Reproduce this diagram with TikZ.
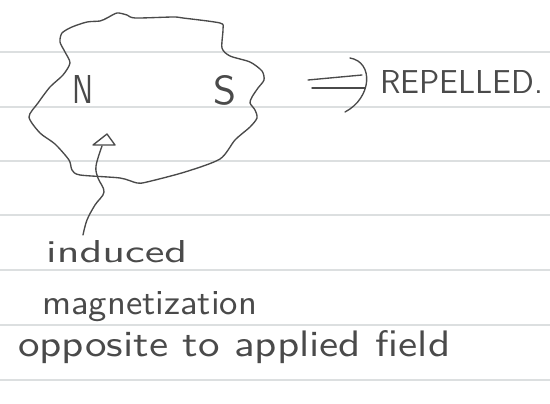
\documentclass[tikz,border=0pt]{standalone}
\usepackage{graphicx}
\definecolor{ink}{HTML}{4A4A4A}
\definecolor{paperline}{HTML}{DCDFE0}
\begin{document}
\begin{tikzpicture}[x=1pt,y=-1pt,
  pen/.style={draw=ink, line width=1.35pt, line cap=round, line join=round},
  ruleline/.style={draw=paperline, line width=1.3pt},
  hand/.style={inner sep=0pt, anchor=base west, text=ink, font=\sffamily}]
\fill[white] (0,0) rectangle (550,404);
\useasboundingbox (0,0) rectangle (550,404);
\foreach \yy in {52,107,161,215,270,325,380} \draw[ruleline] (0,\yy) -- (550,\yy);

% the body
\draw[pen] plot[smooth cycle, tension=0.45] coordinates {
 (62,33) (72,27) (87,22) (100,21) (107,18) (117,13) (127,15) (135,18) (173,17) (183,18)
 (220,23) (223,29) (222,48) (230,56) (250,62) (262,71) (264,80) (258,88) (252,97) (250,103)
 (255,110) (257,118) (250,127) (235,140) (220,159) (185,172) (147,182) (137,183) (120,178)
 (80,175) (72,170) (69,160) (55,144) (40,133) (29,117) (38,103) (50,87) (63,75) (70,63)
 (65,52) (60,42)};

\node[hand] (N) at (72,103) {\resizebox{21pt}{28pt}{N}};
\node[hand] (S) at (213,105) {\resizebox{23pt}{29pt}{S}};

% implies arrow
\coordinate (i1a) at (308,80); \coordinate (i1b) at (362,75);
\coordinate (i2a) at (312,88); \coordinate (i2b) at (365,88);
\coordinate (ha) at (350,58); \coordinate (hb) at (345,112);
\draw[pen] (i1a) -- (i1b);
\draw[pen] (i2a) -- (i2b);
\draw[pen] (ha) .. controls (374,62) and (372,98) .. (hb);
\node[hand] (rep) at (380,94) {\resizebox{163pt}{23pt}{REPELLED.}};

% induced magnetization arrow
\coordinate (tail) at (83,235);
\coordinate (tip) at (107,134);
\draw[pen] plot[smooth, tension=0.6] coordinates {(tail) (87,220) (95,205) (104,192) (98,178) (96,166) (102,146)};
\draw[pen] (tip) -- (93,145) -- (115,145) -- cycle;

\node[hand] (t1) at (46,263) {\resizebox{141pt}{22pt}{induced}};
\node[hand] (t2) at (42,314) {\resizebox{215pt}{23pt}{magnetization}};
\node[hand] (t3) at (18,356) {\resizebox{432pt}{26pt}{opposite to applied field}};
\end{tikzpicture}
\end{document}
